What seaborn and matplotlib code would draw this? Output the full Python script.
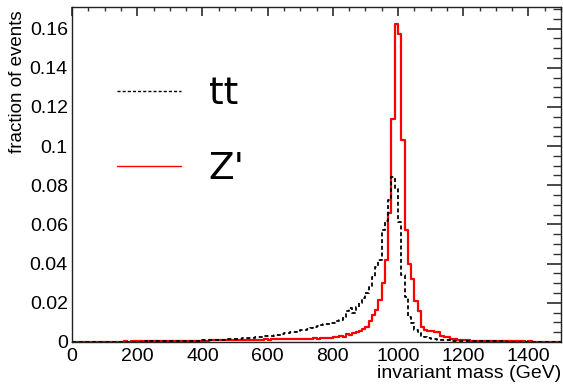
import numpy as np
import pandas as pd
import matplotlib
matplotlib.use("Agg")
import matplotlib.pyplot as plt
from matplotlib.ticker import MultipleLocator
import seaborn as sns

# ---------------------------
# data: fraction of events per 10 GeV bin, 0 - 1500 GeV
# ---------------------------
bin_edges = list(range(0, 1510, 10))

zprime_frac = [
    0.0001, 0.0001, 0.0001, 0.0001, 0.0001, 0.0001, 0.0001, 0.0001, 0.0002, 0.0001,
    0.0002, 0.0001, 0.0002, 0.0002, 0.0002, 0.0002, 0.0003, 0.0002, 0.0003, 0.0003,
    0.0003, 0.0003, 0.0003, 0.0004, 0.0003, 0.0004, 0.0004, 0.0004, 0.0005, 0.0004,
    0.0005, 0.0005, 0.0005, 0.0006, 0.0005, 0.0006, 0.0006, 0.0006, 0.0007, 0.0007,
    0.0007, 0.0007, 0.0008, 0.0008, 0.0008, 0.0009, 0.0008, 0.0009, 0.0009, 0.0010,
    0.0010, 0.0010, 0.0011, 0.0010, 0.0011, 0.0012, 0.0011, 0.0012, 0.0012, 0.0013,
    0.0012, 0.0013, 0.0013, 0.0014, 0.0013, 0.0014, 0.0015, 0.0014, 0.0015, 0.0016,
    0.0015, 0.0016, 0.0017, 0.0016, 0.0018, 0.0017, 0.0019, 0.0018, 0.0020, 0.0021,
    0.0024, 0.0026, 0.0030, 0.0028, 0.0042, 0.0035, 0.0044, 0.0050, 0.0057, 0.0065,
    0.0079, 0.0105, 0.0140, 0.0165, 0.0215, 0.0300, 0.0420, 0.0660, 0.1140, 0.1625,
    0.1570, 0.1030, 0.0570, 0.0400, 0.0320, 0.0210, 0.0156, 0.0075, 0.0060, 0.0055,
    0.0054, 0.0052, 0.0050, 0.0030, 0.0028, 0.0027, 0.0015, 0.0014, 0.0010, 0.0009,
    0.0008, 0.0008, 0.0007, 0.0007, 0.0006, 0.0006, 0.0005, 0.0006, 0.0005, 0.0005,
    0.0004, 0.0004, 0.0004, 0.0003, 0.0004, 0.0003, 0.0003, 0.0003, 0.0003, 0.0002,
    0.0003, 0.0002, 0.0002, 0.0002, 0.0002, 0.0002, 0.0002, 0.0001, 0.0002, 0.0001,
]

ttbar_frac = [
    0.0001, 0.0001, 0.0001, 0.0001, 0.0001, 0.0001, 0.0001, 0.0001, 0.0001, 0.0001,
    0.0001, 0.0001, 0.0002, 0.0001, 0.0002, 0.0002, 0.0002, 0.0002, 0.0002, 0.0002,
    0.0002, 0.0002, 0.0003, 0.0002, 0.0003, 0.0003, 0.0003, 0.0003, 0.0003, 0.0003,
    0.0003, 0.0004, 0.0004, 0.0005, 0.0005, 0.0005, 0.0006, 0.0006, 0.0007, 0.0007,
    0.0008, 0.0008, 0.0009, 0.0010, 0.0010, 0.0011, 0.0012, 0.0012, 0.0013, 0.0014,
    0.0015, 0.0016, 0.0018, 0.0019, 0.0021, 0.0022, 0.0024, 0.0025, 0.0027, 0.0029,
    0.0030, 0.0032, 0.0034, 0.0037, 0.0040, 0.0044, 0.0046, 0.0049, 0.0053, 0.0057,
    0.0059, 0.0062, 0.0066, 0.0070, 0.0075, 0.0080, 0.0085, 0.0092, 0.0090, 0.0095,
    0.0097, 0.0105, 0.0113, 0.0130, 0.0156, 0.0173, 0.0147, 0.0180, 0.0198, 0.0224,
    0.0250, 0.0280, 0.0330, 0.0385, 0.0420, 0.0570, 0.0620, 0.0724, 0.0842, 0.0783,
    0.0610, 0.0340, 0.0230, 0.0130, 0.0097, 0.0063, 0.0045, 0.0032, 0.0025, 0.0020,
    0.0016, 0.0014, 0.0012, 0.0010, 0.0009, 0.0008, 0.0007, 0.0007, 0.0006, 0.0006,
    0.0005, 0.0005, 0.0005, 0.0004, 0.0004, 0.0004, 0.0004, 0.0003, 0.0003, 0.0003,
    0.0003, 0.0003, 0.0003, 0.0002, 0.0002, 0.0002, 0.0002, 0.0002, 0.0002, 0.0002,
    0.0002, 0.0001, 0.0002, 0.0001, 0.0001, 0.0001, 0.0001, 0.0001, 0.0001, 0.0001,
]

labels = ["tt", "Z'"]

# table for seaborn: one row per bin, weighted by the fraction
centers = [(a + b) / 2 for a, b in zip(bin_edges[:-1], bin_edges[1:])]
zp_df = pd.DataFrame({"mass": centers, "frac": zprime_frac})
tt_df = pd.DataFrame({"mass": centers, "frac": ttbar_frac})

# ---------------------------
# plot
# ---------------------------
sns.set_theme(style="white")
plt.rcParams["font.family"] = ["Liberation Sans", "DejaVu Sans"]
plt.rcParams["text.color"] = "black"
plt.rcParams["axes.labelcolor"] = "black"

fig = plt.figure(figsize=(5.63, 3.84), dpi=100)
ax = fig.add_axes([72 / 563, 1 - 342 / 384, 489 / 563, 335 / 384])

# Z' first so the dashed tt line sits on top
sns.histplot(data=zp_df, x="mass", weights="frac", bins=bin_edges, element="step",
             fill=False, color="red", linewidth=1.6, label=labels[1], ax=ax)
sns.histplot(data=tt_df, x="mass", weights="frac", bins=bin_edges, element="step",
             fill=False, color="black", linewidth=1.3, linestyle=(0, (2.2, 1.5)),
             label=labels[0], ax=ax)

ax.set_xlim(0, 1500)
ax.set_ylim(0, 0.171)

ax.xaxis.set_major_locator(MultipleLocator(200))
ax.xaxis.set_minor_locator(MultipleLocator(50))
ax.yaxis.set_major_locator(MultipleLocator(0.02))
ax.yaxis.set_minor_locator(MultipleLocator(0.005))
ax.yaxis.set_major_formatter(plt.FuncFormatter(lambda v, p: "%g" % round(v, 3)))

ax.tick_params(which="both", direction="in", top=True, right=True,
               color="#333333", labelcolor="black", labelsize=14)
ax.tick_params(axis="x", which="major", length=6.5, pad=4)
ax.tick_params(axis="x", which="minor", length=3)
ax.tick_params(axis="y", which="major", length=10, pad=3)
ax.tick_params(axis="y", which="minor", length=5.5)
for sp in ax.spines.values():
    sp.set_color("#222222")
    sp.set_linewidth(1.0)

ax.set_xlabel("invariant mass (GeV)", fontsize=14, loc="right")
ax.xaxis.set_label_coords(1.0, -0.07)
ax.xaxis.label.set_verticalalignment("top")
ax.set_ylabel("fraction of events", fontsize=13.5, loc="top")
ax.yaxis.set_label_coords(-0.095, 0.99)

handles, labs = ax.get_legend_handles_labels()
order = [labs.index(l) for l in labels]
leg = ax.legend([handles[i] for i in order], [labs[i] for i in order],
                loc="upper left", bbox_to_anchor=(0.092, 0.795), frameon=False,
                prop={"family": "DejaVu Sans", "size": 27},
                handlelength=1.7, handletextpad=0.75,
                labelspacing=1.05, borderpad=0, borderaxespad=0)
for line in leg.get_lines():
    line.set_linewidth(1.0)
for t in leg.get_texts():
    t.set_color("black")

fig.savefig("out.png", dpi=100)
